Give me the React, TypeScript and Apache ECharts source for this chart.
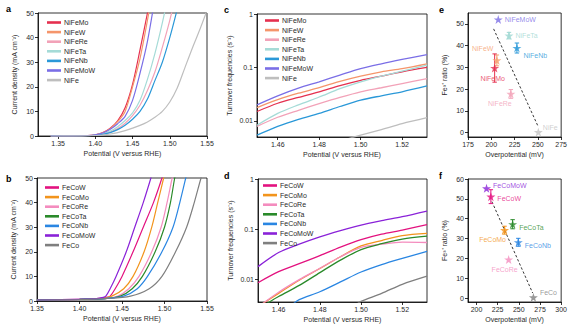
import React, { useEffect, useRef } from "react";
import * as echarts from "echarts";

const FONT = "'Liberation Sans', Arial, Helvetica, sans-serif";
const TXT = "#2a2a2a";

// ---------- Panel a: NiFe-based LSV  [potential (V vs RHE), current density (mA cm-2)]
const niNames = ["NiFeMo", "NiFeW", "NiFeRe", "NiFeTa", "NiFeNb", "NiFeMoW", "NiFe"];
const niColors = ["#e5304f", "#f5956b", "#f2a2b8", "#a5dbd7", "#2a98d8", "#7a6ee6", "#bebebe"];

const aNiFeMo = [[1.34, 0], [1.37, 0.05], [1.39, 0.2], [1.40, 0.5], [1.41, 1.4], [1.42, 3.2], [1.43, 6.2], [1.44, 11.5], [1.45, 21], [1.46, 35], [1.47, 50], [1.48, 66]];
const aNiFeW = [[1.34, 0], [1.37, 0.05], [1.39, 0.2], [1.40, 0.5], [1.41, 1.3], [1.42, 3], [1.43, 5.8], [1.44, 10], [1.45, 20], [1.46, 31.5], [1.47, 47], [1.48, 64]];
const aNiFeRe = [[1.34, 0], [1.37, 0.05], [1.39, 0.15], [1.40, 0.4], [1.41, 0.8], [1.42, 1.6], [1.43, 3], [1.44, 5.2], [1.45, 8.3], [1.46, 12.5], [1.47, 18.5], [1.48, 26], [1.49, 36], [1.50, 47], [1.51, 60]];
const aNiFeTa = [[1.34, 0], [1.37, 0.05], [1.39, 0.15], [1.40, 0.4], [1.41, 0.9], [1.42, 2], [1.43, 3.8], [1.44, 6.3], [1.45, 9.4], [1.46, 14.5], [1.47, 23], [1.48, 33.5], [1.49, 46], [1.50, 60]];
const aNiFeNb = [[1.34, 0], [1.37, 0.05], [1.39, 0.12], [1.40, 0.3], [1.41, 0.7], [1.42, 1.4], [1.43, 2.6], [1.44, 4.4], [1.45, 6.8], [1.46, 10], [1.47, 15], [1.48, 22.5], [1.49, 30], [1.50, 40], [1.51, 51.5], [1.52, 64]];
const aNiFeMoW = [[1.34, 0], [1.37, 0.05], [1.39, 0.2], [1.40, 0.5], [1.41, 1.2], [1.42, 2.7], [1.43, 5], [1.44, 8], [1.45, 14.5], [1.46, 25.5], [1.47, 38.5], [1.48, 56]];
const aNiFe = [[1.34, 0], [1.37, 0.05], [1.39, 0.1], [1.40, 0.2], [1.41, 0.4], [1.42, 0.8], [1.43, 1.4], [1.44, 2.2], [1.45, 3.2], [1.46, 4.3], [1.47, 5.7], [1.48, 7.6], [1.49, 10], [1.50, 13.8], [1.51, 19.5], [1.52, 27.5], [1.53, 35.5], [1.54, 43], [1.55, 51]];
const aData = [aNiFeMo, aNiFeW, aNiFeRe, aNiFeTa, aNiFeNb, aNiFeMoW, aNiFe];

// ---------- Panel b: FeCo-based LSV
const coNames = ["FeCoW", "FeCoMo", "FeCoRe", "FeCoTa", "FeCoNb", "FeCoMoW", "FeCo"];
const coColors = ["#e3127f", "#f2941c", "#f48cbe", "#2a8a2a", "#2a86e2", "#8a22d8", "#7f7f7f"];

const bFeCoW = [[1.35, 0.4], [1.40, 0.7], [1.42, 1.0], [1.43, 1.4], [1.436, 2], [1.442, 5], [1.45, 10], [1.463, 20], [1.475, 30], [1.487, 40], [1.497, 50], [1.50, 54]];
const bFeCoMo = [[1.35, 0.4], [1.40, 0.7], [1.425, 1.0], [1.438, 2], [1.452, 5], [1.463, 10], [1.476, 20], [1.485, 30], [1.492, 40], [1.499, 50], [1.503, 56]];
const bFeCoRe = [[1.35, 0.4], [1.40, 0.7], [1.43, 1.0], [1.445, 2], [1.458, 5], [1.47, 10], [1.485, 20], [1.496, 30], [1.503, 40], [1.509, 50], [1.513, 56]];
const bFeCoTa = [[1.35, 0.4], [1.40, 0.7], [1.43, 1.0], [1.448, 2], [1.462, 5], [1.474, 10], [1.489, 20], [1.50, 30], [1.507, 40], [1.512, 50], [1.516, 56]];
const bFeCoNb = [[1.35, 0.4], [1.40, 0.7], [1.43, 1.0], [1.452, 2], [1.468, 5], [1.48, 10], [1.497, 20], [1.51, 30], [1.518, 40], [1.525, 50], [1.529, 56]];
const bFeCoMoW = [[1.35, 0.4], [1.40, 0.7], [1.42, 1.0], [1.428, 1.5], [1.431, 2], [1.436, 5], [1.443, 10], [1.455, 20], [1.465, 30], [1.475, 40], [1.484, 50], [1.488, 55]];
const bFeCo = [[1.35, 0.4], [1.40, 0.6], [1.43, 1.0], [1.46, 2], [1.482, 5], [1.497, 10], [1.513, 20], [1.526, 30], [1.535, 40], [1.543, 50], [1.548, 55]];
const bData = [bFeCoW, bFeCoMo, bFeCoRe, bFeCoTa, bFeCoNb, bFeCoMoW, bFeCo];

// ---------- Panel c: NiFe-based TOF  [potential, TOF (s-1)]
const cNiFeMo = [[1.45, 0.015], [1.46, 0.0214], [1.47, 0.0275], [1.48, 0.035], [1.49, 0.0457], [1.50, 0.0575], [1.51, 0.069], [1.52, 0.083], [1.532, 0.1]];
const cNiFeW = [[1.45, 0.0178], [1.46, 0.025], [1.47, 0.033], [1.48, 0.042], [1.49, 0.055], [1.50, 0.069], [1.51, 0.083], [1.52, 0.095], [1.532, 0.117]];
const cNiFeRe = [[1.45, 0.0079], [1.46, 0.0117], [1.47, 0.0158], [1.48, 0.021], [1.49, 0.0275], [1.50, 0.035], [1.51, 0.0417], [1.52, 0.05], [1.532, 0.062]];
const cNiFeTa = [[1.45, 0.0083], [1.46, 0.0138], [1.47, 0.02], [1.48, 0.028], [1.49, 0.04], [1.50, 0.054], [1.51, 0.069], [1.52, 0.085], [1.532, 0.11]];
const cNiFeNb = [[1.45, 0.0054], [1.46, 0.0079], [1.47, 0.0107], [1.48, 0.0138], [1.49, 0.0186], [1.50, 0.0245], [1.51, 0.0295], [1.52, 0.035], [1.532, 0.045]];
const cNiFeMoW = [[1.45, 0.02], [1.46, 0.0295], [1.47, 0.041], [1.48, 0.054], [1.49, 0.072], [1.50, 0.095], [1.51, 0.117], [1.52, 0.141], [1.532, 0.174]];
const cNiFe = [[1.49, 0.0042], [1.50, 0.0054], [1.51, 0.0069], [1.52, 0.0089], [1.532, 0.0115]];
const cData = [cNiFeMo, cNiFeW, cNiFeRe, cNiFeTa, cNiFeNb, cNiFeMoW, cNiFe];

// ---------- Panel d: FeCo-based TOF
const dFeCoW = [[1.45, 0.0085], [1.46, 0.0141], [1.47, 0.0204], [1.48, 0.0295], [1.49, 0.0437], [1.50, 0.0617], [1.51, 0.0794], [1.52, 0.0955], [1.532, 0.123]];
const dFeCoMo = [[1.452, 0.0032], [1.46, 0.0052], [1.47, 0.0095], [1.48, 0.0163], [1.49, 0.028], [1.50, 0.046], [1.51, 0.059], [1.52, 0.074], [1.532, 0.082]];
const dFeCoRe = [[1.452, 0.0032], [1.46, 0.0055], [1.47, 0.0098], [1.48, 0.0165], [1.49, 0.028], [1.50, 0.043], [1.51, 0.05], [1.52, 0.055], [1.532, 0.054]];
const dFeCoTa = [[1.454, 0.0032], [1.46, 0.0045], [1.47, 0.0075], [1.48, 0.0135], [1.49, 0.024], [1.50, 0.039], [1.51, 0.051], [1.52, 0.063], [1.532, 0.072]];
const dFeCoNb = [[1.467, 0.0032], [1.47, 0.0039], [1.48, 0.0056], [1.49, 0.0088], [1.50, 0.0139], [1.51, 0.0195], [1.52, 0.026], [1.532, 0.036]];
const dFeCoMoW = [[1.45, 0.0178], [1.46, 0.034], [1.47, 0.05], [1.48, 0.07], [1.49, 0.093], [1.50, 0.12], [1.51, 0.147], [1.52, 0.177], [1.532, 0.229]];
const dFeCo = [[1.498, 0.0032], [1.50, 0.0036], [1.51, 0.0052], [1.52, 0.0079], [1.532, 0.0115]];
const dData = [dFeCoW, dFeCoMo, dFeCoRe, dFeCoTa, dFeCoNb, dFeCoMoW, dFeCo];

// ---------- Panel e: NiFe-based Fe3+ ratio vs overpotential
const eNames = ["NiFeMoW", "NiFeTa", "NiFeNb", "NiFeW", "NiFeMo", "NiFeRe", "NiFe"];
const eOverpot = [207.5, 219, 227.5, 206, 203.6, 221, 250.5];
const eRatio = [52, 44.6, 38.9, 33.2, 29.7, 17.8, 0.2];
const eErr = [0, 1.5, 2.3, 2.5, 6.5, 2, 0];
const eColors = ["#7a6ee6", "#9fd8d2", "#2a98d8", "#f5a06e", "#e5304f", "#f2a2b8", "#c4c4c4"];
const eTrend = [[202.5, 47.7], [250, 3.1]];

// ---------- Panel f: FeCo-based Fe3+ ratio vs overpotential
const fNames = ["FeCoMoW", "FeCoW", "FeCoTa", "FeCoMo", "FeCoNb", "FeCoRe", "FeCo"];
const fOverpot = [211.9, 217, 242.7, 233.2, 249.4, 238, 267.2];
const fRatio = [55.3, 51.1, 37.2, 34.2, 28.1, 19.4, 0.3];
const fErr = [0, 3.5, 2.3, 2, 2, 0, 0];
const fColors = ["#8a22d8", "#e3127f", "#2a8a2a", "#f2941c", "#2a86e2", "#f48cbe", "#7f7f7f"];
const fTrend = [[218.2, 48.6], [266.4, 2.5]];

// label placement (style only)
const eLabelPlace: any[] = [
  { position: "right", offset: [0, 0] },
  { position: "right", offset: [0, 0] },
  { position: "right", offset: [0, 7] },
  { position: "left", offset: [3, -12] },
  { position: "bottom", offset: [-2, 0] },
  { position: "bottom", offset: [-11, 0] },
  { position: "right", offset: [-2, -5] },
];
const fLabelPlace: any[] = [
  { position: "right", offset: [0, -3] },
  { position: "right", offset: [0, 2] },
  { position: "right", offset: [0, 3] },
  { position: "bottom", offset: [-12, -1] },
  { position: "right", offset: [0, 3] },
  { position: "bottom", offset: [-4, 0] },
  { position: "right", offset: [0, -5] },
];

const STAR = "path://M50,0 L61.8,35.1 L98.9,35.1 L69,57.3 L80.3,92.7 L50,70.5 L19.7,92.7 L31,57.3 L1.1,35.1 L38.2,35.1 Z";

const textStyle = { fontSize: 7, color: TXT, fontFamily: FONT };
const lineAxis = { show: true, onZero: false, lineStyle: { color: "#000", width: 0.8 } };
const tickStyle = { color: "#000", width: 0.8 };

function xAxis(gridIndex: number, min: number, max: number, ticks: number[], name: string, digits: number) {
  return {
    type: "value", gridIndex, min, max, name, nameLocation: "middle", nameGap: 14,
    nameTextStyle: textStyle,
    axisLine: lineAxis,
    axisTick: { show: true, length: 3, lineStyle: tickStyle, customValues: ticks },
    axisLabel: { ...textStyle, margin: 4, customValues: ticks, formatter: (v: number) => v.toFixed(digits) },
    splitLine: { show: false },
  };
}
function yAxis(gridIndex: number, min: number, max: number, ticks: number[], name: string, gap: number) {
  return {
    type: "value", gridIndex, min, max, name, nameLocation: "middle", nameGap: gap,
    nameTextStyle: textStyle,
    axisLine: lineAxis,
    axisTick: { show: true, length: 3, lineStyle: tickStyle, customValues: ticks },
    axisLabel: { ...textStyle, margin: 4, customValues: ticks },
    splitLine: { show: false },
  };
}
function logAxis(gridIndex: number, min: number, name: string, gap: number) {
  return {
    type: "log", logBase: 10, gridIndex, min, max: 1, name, nameLocation: "middle", nameGap: gap,
    nameTextStyle: textStyle,
    axisLine: lineAxis,
    axisTick: { show: true, length: 3, lineStyle: tickStyle },
    axisLabel: { ...textStyle, margin: 4, showMinLabel: false, formatter: (v: number) => String(parseFloat(v.toPrecision(3))) },
    splitLine: { show: false },
  };
}

function lineSeries(names: string[], colors: string[], data: number[][][], axisIndex: number, width: number) {
  return names.map((n, i) => ({
    type: "line", name: n, xAxisIndex: axisIndex, yAxisIndex: axisIndex,
    data: data[i], symbol: "none", showSymbol: false, smooth: 0.3,
    clip: true, lineStyle: { color: colors[i], width }, itemStyle: { color: colors[i] },
    z: 2,
  }));
}

function legend(names: string[], left: number, top: number) {
  return {
    data: names, orient: "vertical", left, top, padding: 0, itemGap: 2.6,
    itemWidth: 14, itemHeight: 2.6, icon: "rect", selectedMode: false,
    textStyle: { fontSize: 7, color: TXT, fontFamily: FONT, padding: [0, 0, 0, -2] },
  };
}

function errorBars(over: number[], ratio: number[], err: number[], colors: string[], idx: number) {
  return {
    type: "custom", xAxisIndex: idx, yAxisIndex: idx, z: 3,
    data: over.map((x, i) => [x, ratio[i], err[i]]),
    renderItem: (params: any, api: any) => {
      const x = api.value(0), y = api.value(1), e = api.value(2);
      if (!e) return { type: "group", children: [] };
      const lo = api.coord([x, y - e]);
      const hi = api.coord([x, y + e]);
      const c = colors[params.dataIndex];
      const st = { stroke: c, lineWidth: 1 };
      return {
        type: "group",
        children: [
          { type: "line", shape: { x1: lo[0], y1: lo[1], x2: hi[0], y2: hi[1] }, style: st },
          { type: "line", shape: { x1: lo[0] - 2.2, y1: lo[1], x2: lo[0] + 2.2, y2: lo[1] }, style: st },
          { type: "line", shape: { x1: hi[0] - 2.2, y1: hi[1], x2: hi[0] + 2.2, y2: hi[1] }, style: st },
        ],
      };
    },
  };
}

function starSeries(names: string[], over: number[], ratio: number[], colors: string[], place: any[], idx: number) {
  return {
    type: "scatter", xAxisIndex: idx, yAxisIndex: idx, symbol: STAR, symbolSize: 9, z: 4,
    data: names.map((n, i) => ({
      value: [over[i], ratio[i]], name: n,
      itemStyle: { color: colors[i] },
      label: {
        show: true, formatter: n, color: colors[i], fontSize: 7, fontFamily: FONT,
        position: place[i].position, offset: place[i].offset, distance: 2,
      },
    })),
  };
}

function trend(data: number[][], idx: number) {
  return {
    type: "line", xAxisIndex: idx, yAxisIndex: idx, data, symbol: "none", z: 1,
    lineStyle: { color: "#222", width: 0.9, type: [2.5, 2] },
  };
}

const gridBox = { show: true, borderColor: "#000", borderWidth: 0.8, backgroundColor: "transparent" };

function letter(t: string, left: number, top: number) {
  return { type: "text", left, top, style: { text: t, fontSize: 9, fontWeight: "bold", fontFamily: FONT, fill: "#000" } };
}

const option: any = {
  animation: false,
  grid: [
    { ...gridBox, left: 38, top: 13, width: 169, height: 123 },
    { ...gridBox, left: 37, top: 178, width: 170, height: 123 },
    { ...gridBox, left: 257, top: 14, width: 170, height: 123 },
    { ...gridBox, left: 258, top: 179, width: 169, height: 123 },
    { ...gridBox, left: 468, top: 13, width: 95, height: 124 },
    { ...gridBox, left: 468, top: 179, width: 95, height: 123 },
  ],
  xAxis: [
    xAxis(0, 1.323, 1.55, [1.35, 1.4, 1.45, 1.5, 1.55], "Potential (V versus RHE)", 2),
    xAxis(1, 1.35, 1.55, [1.35, 1.4, 1.45, 1.5, 1.55], "Potential (V versus RHE)", 2),
    xAxis(2, 1.45, 1.532, [1.46, 1.48, 1.5, 1.52], "Potential (V versus RHE)", 2),
    xAxis(3, 1.45, 1.532, [1.46, 1.48, 1.5, 1.52], "Potential (V versus RHE)", 2),
    xAxis(4, 175, 275, [175, 200, 225, 250, 275], "Overpotential (mV)", 0),
    xAxis(5, 190, 300, [200, 225, 250, 275, 300], "Overpotential (mV)", 0),
  ],
  yAxis: [
    yAxis(0, 0, 50, [0, 10, 20, 30, 40, 50], "Current density (mA cm\u207B\u00B2)", 20),
    yAxis(1, 0, 50, [0, 10, 20, 30, 40, 50], "Current density (mA cm\u207B\u00B2)", 20),
    logAxis(2, 0.005, "Turnover frequencies (s\u207B\u00B9)", 24),
    logAxis(3, 0.0035, "Turnover frequencies (s\u207B\u00B9)", 24),
    yAxis(4, -2, 55, [0, 10, 20, 30, 40, 50], "Fe\u00B3\u207A ratio (%)", 20),
    yAxis(5, -2, 60, [0, 10, 20, 30, 40, 50, 60], "Fe\u00B3\u207A ratio (%)", 20),
  ],
  legend: [
    legend(niNames, 47, 19),
    legend(coNames, 45, 184),
    legend(niNames, 265, 17),
    legend(coNames, 263, 182),
  ],
  series: [
    ...lineSeries(niNames, niColors, aData, 0, 1.2),
    ...lineSeries(coNames, coColors, bData, 1, 1.2),
    ...lineSeries(niNames, niColors, cData, 2, 1.3),
    ...lineSeries(coNames, coColors, dData, 3, 1.3),
    trend(eTrend, 4),
    errorBars(eOverpot, eRatio, eErr, eColors, 4),
    starSeries(eNames, eOverpot, eRatio, eColors, eLabelPlace, 4),
    trend(fTrend, 5),
    errorBars(fOverpot, fRatio, fErr, fColors, 5),
    starSeries(fNames, fOverpot, fRatio, fColors, fLabelPlace, 5),
  ],
  graphic: [
    letter("a", 6, 4),
    letter("b", 6, 174),
    letter("c", 224, 5),
    letter("d", 224, 171),
    letter("e", 439, 5),
    letter("f", 439, 171),
  ],
};

export default function App() {
  const ref = useRef<HTMLDivElement>(null);
  useEffect(() => {
    document.body.style.margin = "0";
    const chart = echarts.init(ref.current!, null, { renderer: "svg" });
    chart.setOption(option);
    return () => chart.dispose();
  }, []);
  return <div ref={ref} style={{ width: 570, height: 330, background: "#fff" }} />;
}
